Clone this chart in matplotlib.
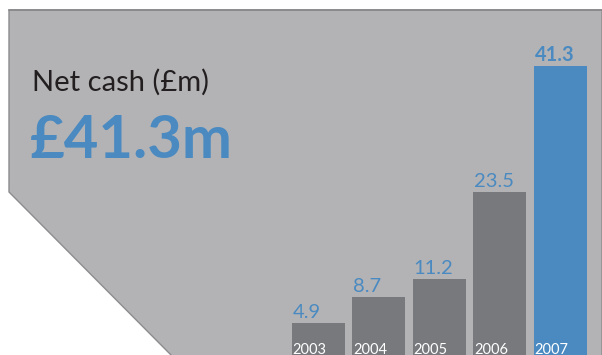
import matplotlib.pyplot as plt
from matplotlib.patches import Polygon

years = ['2003', '2004', '2005', '2006', '2007']
net_cash = [4.9, 8.7, 11.2, 23.5, 41.3]
headline = '£41.3m'
title = 'Net cash (£m)'

panel_grey = '#b3b3b5'
bar_grey = '#77797d'
blue = '#4a8ac1'
font = ['Lato', 'DejaVu Sans']

plt.rcParams['font.family'] = font

fig = plt.figure(figsize=(6.02, 3.55), dpi=100)
fig.patch.set_facecolor('white')

# backdrop panel with the clipped lower-left corner, in pixel units
bg = fig.add_axes([0, 0, 1, 1])
bg.set_xlim(0, 602)
bg.set_ylim(355, 0)
bg.axis('off')
panel = Polygon([(9, 10), (602, 10), (602, 356), (172, 356), (9, 192)],
                closed=True, facecolor=panel_grey, edgecolor='#8c8c8e', lw=1)
bg.add_patch(panel)
bg.plot([9, 602], [10, 10], color='#88888a', lw=1.2)

bg.text(32, 91, title, fontsize=21, color='#231f20', va='baseline')
bg.text(30, 158, headline, fontsize=43, fontweight='bold', color=blue,
        va='baseline')

# bar chart
ax = fig.add_axes([0, 0, 1, 1])
ax.patch.set_alpha(0)
ax.axis('off')
ax.set_xlim(-5.264, 4.686)
ax.set_ylim(0.42, 50.7)

colors = [bar_grey] * (len(years) - 1) + [blue]
width = 0.876
bars = ax.bar(range(len(years)), net_cash, width=width, color=colors)

for i, (bar, yr, v) in enumerate(zip(bars, years, net_cash)):
    left = bar.get_x()
    ax.annotate(f'{v}', (left, v), xytext=(0.5, 3.6), textcoords='offset points',
                fontsize=14.5, color=blue, ha='left', va='baseline',
                fontweight='bold' if i == len(years) - 1 else 'normal')
    ax.annotate(yr, (left, 0), xytext=(0.5, 11), textcoords='offset points',
                fontsize=10.5, color='white', ha='left', va='top',
                annotation_clip=False)

fig.savefig('out.png', dpi=100, facecolor='white')
